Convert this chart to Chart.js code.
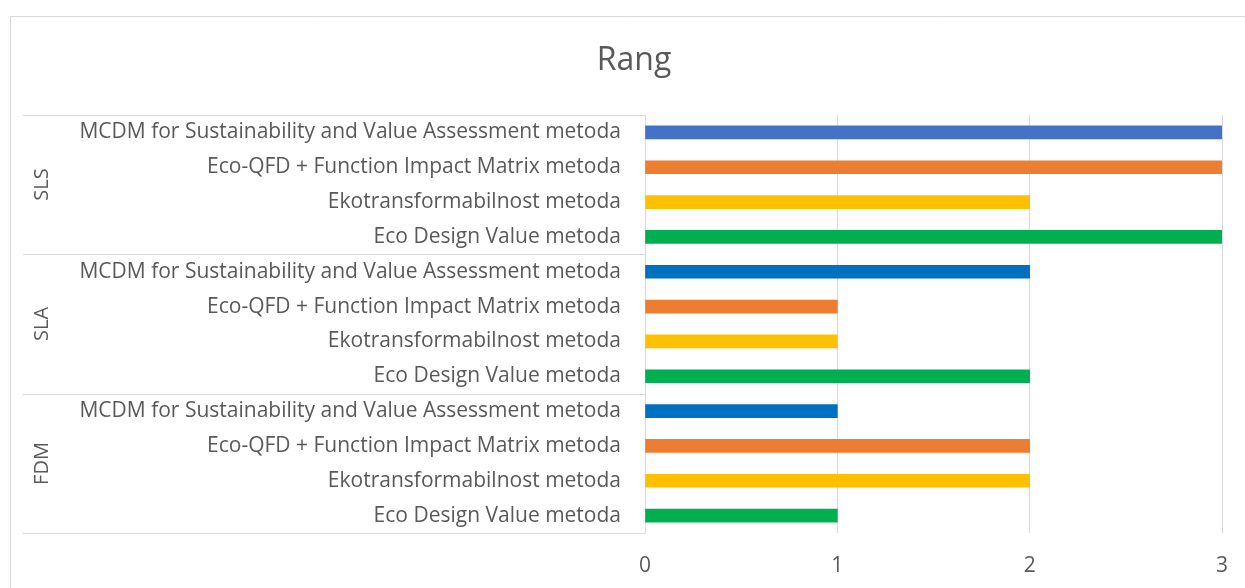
<!DOCTYPE html>
<html>
<head>
<meta charset="utf-8">
<title>Rang</title>
<script src="https://cdn.jsdelivr.net/npm/chart.js@4.4.0/dist/chart.umd.min.js"></script>
<style>
  html, body { margin: 0; padding: 0; background: #fff; }
  #wrap { width: 1245px; height: 588px; }
</style>
</head>
<body>
<div id="wrap"><canvas id="rangChart" width="1245" height="588"></canvas></div>
<script>
// printing processes (outer axis level), listed top to bottom
const groups = ['SLS', 'SLA', 'FDM'];
// methods inside each process, top to bottom
const methods = [
  'MCDM for Sustainability and Value Assessment metoda',
  'Eco-QFD + Function Impact Matrix metoda',
  'Ekotransformabilnost metoda',
  'Eco Design Value metoda'
];
const slsRang = [3, 3, 2, 3];
const slaRang = [2, 1, 1, 2];
const fdmRang = [1, 2, 2, 1];
const xTicks = [0, 1, 2, 3];

const methodColors = ['#4472C4', '#ED7D31', '#FFC000', '#00B050'];
const mcdmDark = '#0070C0';

const labels = [];
const values = [];
const colors = [];
[slsRang, slaRang, fdmRang].forEach((vals, g) => {
  vals.forEach((v, i) => {
    labels.push(methods[i]);
    values.push(v);
    colors.push(i === 0 && g > 0 ? mcdmDark : methodColors[i]);
  });
});

const FONT = '"Open Sans", Lato, sans-serif';
const TEXT = '#595959';
const LINE = '#d9d9d9';

// frame + outer category level (process names and separators)
const groupAxis = {
  id: 'groupAxis',
  beforeDraw(chart) {
    const ctx = chart.ctx;
    ctx.save();
    ctx.strokeStyle = LINE;
    ctx.lineWidth = 1;
    ctx.beginPath();
    ctx.moveTo(10.5, chart.height + 2);
    ctx.lineTo(10.5, 16.5);
    ctx.lineTo(chart.width + 2, 16.5);
    ctx.stroke();
    ctx.restore();
  },
  afterDraw(chart) {
    const ctx = chart.ctx;
    const y = chart.scales.y;
    const area = chart.chartArea;
    const per = methods.length;
    const bounds = [area.top];
    for (let g = 1; g < groups.length; g++) {
      const k = g * per;
      bounds.push(Math.round((y.getPixelForValue(k - 1) + y.getPixelForValue(k)) / 2));
    }
    bounds.push(area.bottom);

    ctx.save();
    ctx.strokeStyle = LINE;
    ctx.lineWidth = 1;
    bounds.forEach(b => {
      ctx.beginPath();
      ctx.moveTo(23, Math.round(b) + 0.5);
      ctx.lineTo(area.left, Math.round(b) + 0.5);
      ctx.stroke();
    });
    ctx.fillStyle = TEXT;
    ctx.font = '20px ' + FONT;
    ctx.textAlign = 'center';
    ctx.textBaseline = 'middle';
    groups.forEach((name, g) => {
      ctx.save();
      ctx.translate(42, (bounds[g] + bounds[g + 1]) / 2);
      ctx.rotate(-Math.PI / 2);
      ctx.fillText(name, 0, 0);
      ctx.restore();
    });
    ctx.restore();
  }
};

new Chart(document.getElementById('rangChart'), {
  type: 'bar',
  data: {
    labels,
    datasets: [{
      label: 'Rang',
      data: values,
      backgroundColor: colors,
      borderWidth: 0,
      barThickness: 13
    }]
  },
  options: {
    indexAxis: 'y',
    responsive: false,
    animation: false,
    layout: { padding: { top: 42, left: 46, right: 23, bottom: 12 } },
    plugins: {
      legend: { display: false },
      tooltip: { enabled: false },
      title: {
        display: true,
        text: 'Rang',
        color: TEXT,
        font: { family: FONT, size: 32, weight: 'normal' },
        padding: { top: 0, bottom: 34.6 }
      }
    },
    scales: {
      x: {
        min: 0,
        max: 3,
        afterBuildTicks: axis => { axis.ticks = xTicks.map(v => ({ value: v })); },
        afterFit: scale => {
          scale.height = 43;
          scale.paddingLeft = 0;
          scale.paddingRight = 0;
        },
        grid: { color: LINE, drawTicks: false },
        border: { display: false },
        ticks: { color: TEXT, padding: 20, font: { family: FONT, size: 21 } }
      },
      y: {
        afterFit: scale => { scale.width = 599; },
        grid: { display: false },
        border: { display: true, color: LINE, width: 1 },
        ticks: { color: TEXT, padding: 16, autoSkip: false, font: { family: FONT, size: 21 } }
      }
    }
  },
  plugins: [groupAxis]
});
</script>
</body>
</html>
